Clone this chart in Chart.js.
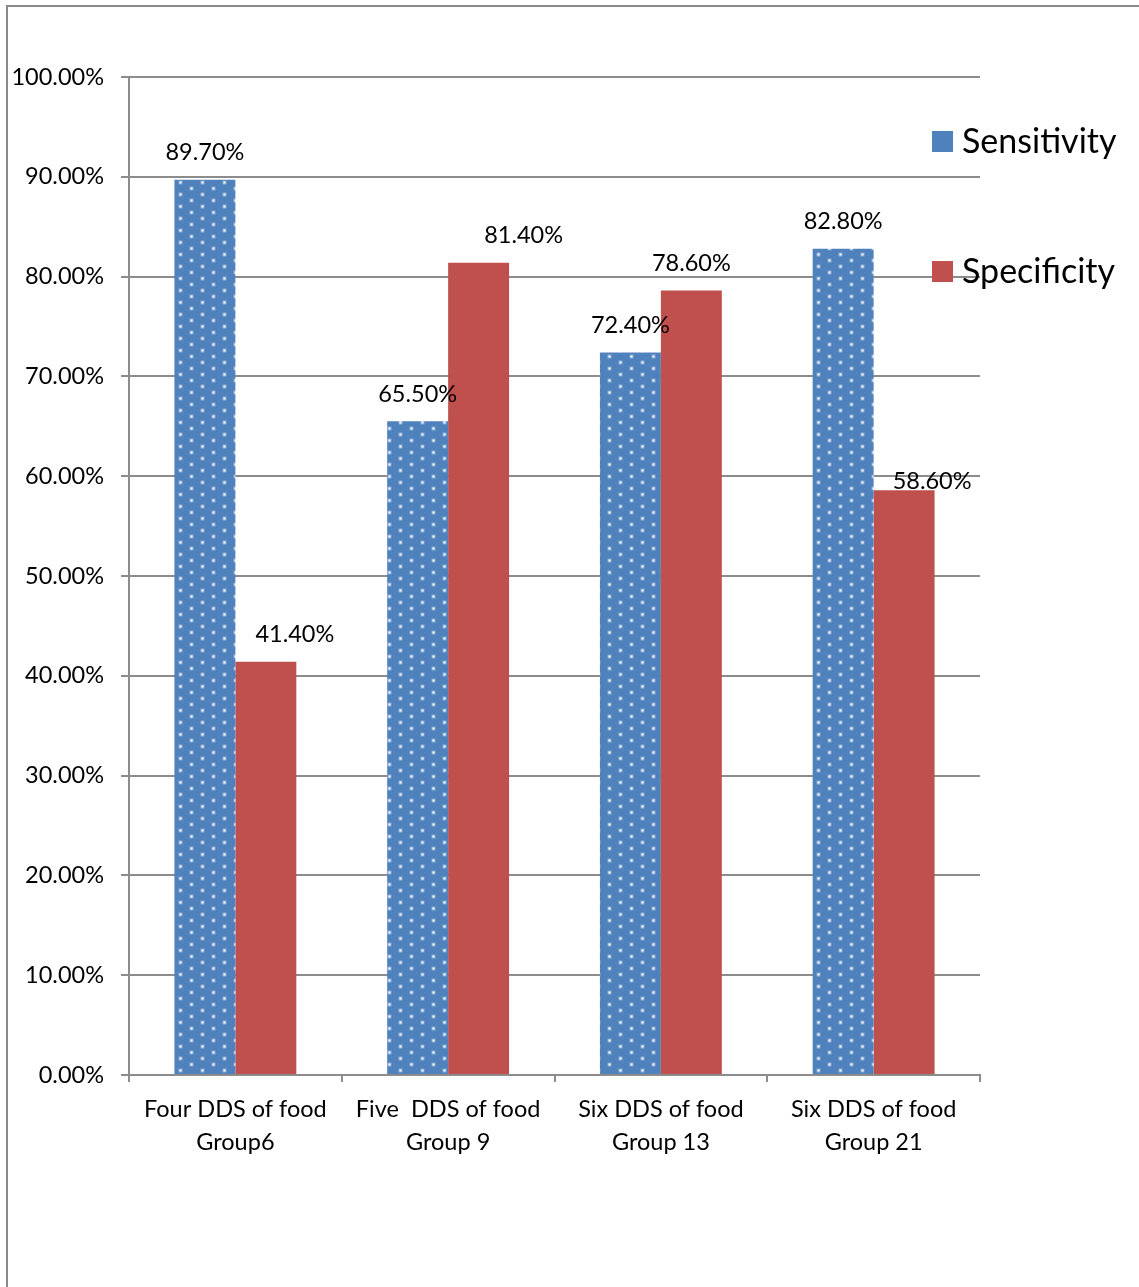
<!DOCTYPE html>
<html>
<head>
<meta charset="utf-8">
<script src="https://cdn.jsdelivr.net/npm/chart.js@4/dist/chart.umd.min.js"></script>
<style>
  html, body { margin: 0; padding: 0; background: #fff; overflow: hidden; }
  #frame {
    position: absolute; left: 6px; top: 5px; width: 2000px; height: 2000px;
    border: 2px solid #8a8a8a; box-sizing: border-box;
  }
  #wrap { position: absolute; left: 0; top: 0; width: 1139px; height: 1287px; }
</style>
</head>
<body>
<div id="frame"></div>
<div id="wrap"><canvas id="c" width="1139" height="1287"></canvas></div>
<script>
// Diagnostic accuracy of dietary diversity score cut-offs
const categories = [
  ['Four DDS of food', 'Group6'],
  ['Five  DDS of food', 'Group 9'],
  ['Six DDS of food', 'Group 13'],
  ['Six DDS of food', 'Group 21']
];
const sensitivity = [89.7, 65.5, 72.4, 82.8];
const specificity = [41.4, 81.4, 78.6, 58.6];
const seriesNames = ['Sensitivity', 'Specificity'];
const yTicks = [0, 10, 20, 30, 40, 50, 60, 70, 80, 90, 100];

const FONT = 'Lato, "Open Sans", sans-serif';
const BLUE = '#4F81BD';
const RED = '#C0504D';
const GRID = '#8c8c8c';

// soft white dot on a blue tile, staggered rows
function dotPattern() {
  const t = document.createElement('canvas');
  t.width = 22; t.height = 12;
  const g = t.getContext('2d');
  g.fillStyle = BLUE;
  g.fillRect(0, 0, 22, 12);
  const dot = (x, y) => {
    g.fillStyle = 'rgba(255,255,255,0.35)';
    g.fillRect(x - 1.5, y - 1.5, 4, 4);
    g.fillStyle = 'rgba(255,255,255,0.9)';
    g.fillRect(x - 0.5, y - 0.5, 2, 2);
  };
  dot(4, 2);
  dot(15, 8);
  return document.getElementById('c').getContext('2d').createPattern(t, 'repeat');
}

// value label nudges per series (x, y in px)
const labelNudgeX = [[0, 0, 0, 0], [29, 45, 0, 28]];
const labelNudgeY = [[0, 0, 0, 0], [0, 0, 0, 18]];

const valueLabels = {
  id: 'valueLabels',
  afterDatasetsDraw(chart) {
    const ctx = chart.ctx;
    ctx.save();
    ctx.font = '23.5px ' + FONT;
    ctx.fillStyle = '#000';
    ctx.textAlign = 'center';
    ctx.textBaseline = 'middle';
    chart.data.datasets.forEach((ds, di) => {
      chart.getDatasetMeta(di).data.forEach((el, i) => {
        const txt = ds.data[i].toFixed(2) + '%';
        ctx.fillText(txt, el.x + labelNudgeX[di][i], el.y - 27 + labelNudgeY[di][i]);
      });
    });
    ctx.restore();
  }
};

const sideLegend = {
  id: 'sideLegend',
  afterDraw(chart) {
    const ctx = chart.ctx;
    const x0 = chart.chartArea.right - 48;
    const rows = [141, 271];
    ctx.save();
    ctx.font = '34px ' + FONT;
    ctx.textBaseline = 'middle';
    ctx.textAlign = 'left';
    chart.data.datasets.forEach((ds, di) => {
      ctx.fillStyle = ds.legendColor;
      ctx.fillRect(x0, rows[di] - 10, 21, 21);
      ctx.fillStyle = '#000';
      ctx.fillText(ds.label, x0 + 30, rows[di] + 1);
    });
    ctx.restore();
  }
};

new Chart(document.getElementById('c'), {
  type: 'bar',
  data: {
    labels: categories,
    datasets: [
      { label: seriesNames[0], data: sensitivity, backgroundColor: dotPattern(), legendColor: BLUE,
        categoryPercentage: 0.573, barPercentage: 1.0 },
      { label: seriesNames[1], data: specificity, backgroundColor: RED, legendColor: RED,
        categoryPercentage: 0.573, barPercentage: 1.0 }
    ]
  },
  options: {
    responsive: false,
    animation: false,
    layout: { padding: { left: 0, right: 159, top: 77, bottom: 0 } },
    plugins: { legend: { display: false }, tooltip: { enabled: false } },
    scales: {
      x: {
        grid: { display: true, drawOnChartArea: false, drawTicks: true, tickLength: 7, color: GRID, lineWidth: 2, offset: true },
        border: { display: true, color: GRID, width: 2 },
        ticks: { color: '#000', font: { family: FONT, size: 23.5, lineHeight: 1.4 }, padding: 11, maxRotation: 0, autoSkip: false },
        afterFit(s) { s.height = 212; }
      },
      y: {
        min: 0, max: 100,
        afterBuildTicks(s) { s.ticks = yTicks.map(v => ({ value: v })); },
        grid: { color: GRID, lineWidth: 2, drawTicks: true, tickLength: 8 },
        border: { display: true, color: GRID, width: 2 },
        ticks: { color: '#000', font: { family: FONT, size: 23.5 }, padding: 17,
                 callback: v => v.toFixed(2) + '%' },
        afterFit(s) { s.width = 129; }
      }
    }
  },
  plugins: [valueLabels, sideLegend]
});
</script>
</body>
</html>
